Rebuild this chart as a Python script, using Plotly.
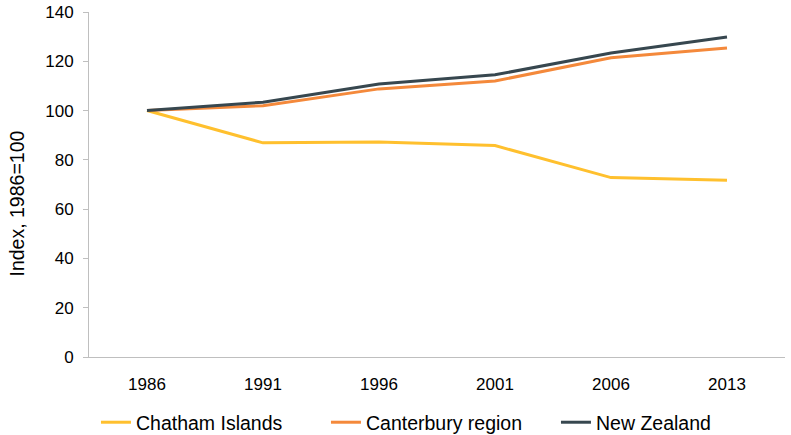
import plotly.graph_objects as go

years = ["1986", "1991", "1996", "2001", "2006", "2013"]
chatham = [100, 86.9, 87.2, 85.8, 72.8, 71.7]
canterbury = [100, 102.0, 108.8, 112.0, 121.4, 125.4]
new_zealand = [100, 103.4, 110.8, 114.5, 123.4, 129.9]

series = [
    ("Chatham Islands", chatham, "#FFC02E"),
    ("Canterbury region", canterbury, "#F4893B"),
    ("New Zealand", new_zealand, "#37474F"),
]

fig = go.Figure()
for name, vals, color in series:
    fig.add_trace(go.Scatter(x=years, y=vals, mode="lines", name=name,
                             line=dict(color=color, width=3)))

fig.update_layout(
    width=791, height=435,
    margin=dict(l=89, r=6, t=12, b=78, autoexpand=False),
    paper_bgcolor="white", plot_bgcolor="white",
    font=dict(family="Liberation Sans, Arial, sans-serif", size=17, color="#000000"),
    showlegend=True,
    legend=dict(orientation="h", x=0.01, xanchor="left", y=-0.19, yanchor="middle",
                font=dict(size=19.5), traceorder="normal", entrywidth=185,
                entrywidthmode="pixels"),
    xaxis=dict(type="category", range=[-0.5, 5.5], showgrid=False, showline=True,
               linecolor="#BFBFBF", linewidth=1, ticks="", tickfont=dict(size=17),
               ticklabelstandoff=12, automargin=False),
    yaxis=dict(range=[0, 140], dtick=20, showgrid=False, showline=True,
               linecolor="#BFBFBF", linewidth=1, ticks="outside", ticklen=5,
               tickcolor="#BFBFBF", tickfont=dict(size=17), zeroline=False,
               ticklabelstandoff=6, automargin=False),
    annotations=[dict(text="Index, 1986=100", textangle=-90, xref="paper", yref="paper",
                      x=-0.1034, y=0.445, xanchor="center", yanchor="middle",
                      showarrow=False, font=dict(size=19.5))],
)

fig.write_html("out.html")
